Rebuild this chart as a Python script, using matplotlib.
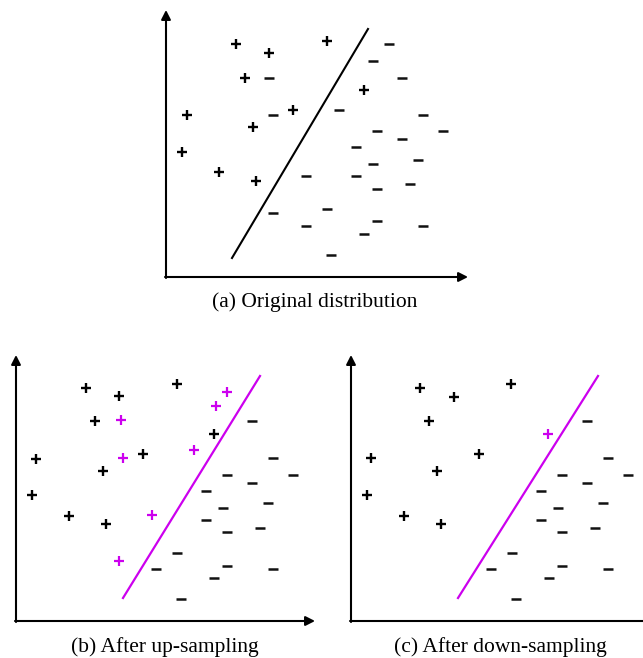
import matplotlib
matplotlib.use("Agg")
import matplotlib.pyplot as plt

W, H = 643, 658
MAGENTA = "#cc00ee"

# panel (a): original distribution (units = pixels from the axis origin)
a_plus_x = [70, 103, 161, 79, 198, 21, 127, 87, 16, 53, 90]
a_plus_y = [233, 224, 236, 199, 187, 162, 167, 150, 125, 105, 96]
a_minus_x = [223, 207, 103, 236, 173, 107, 257, 211, 277, 236, 190, 207, 252,
             140, 190, 211, 244, 107, 161, 211, 140, 198, 257, 165]
a_minus_y = [233, 216, 199, 199, 167, 162, 162, 146, 146, 138, 130, 113, 117,
             101, 101, 88, 93, 64, 68, 56, 51, 43, 51, 22]
a_line_x = [66, 202]
a_line_y = [19, 248]

# panel (b): after up-sampling
b_plus_x = [70, 103, 161, 79, 198, 20, 127, 87, 16, 53, 90]
b_plus_y = [233, 225, 237, 200, 187, 162, 167, 150, 126, 105, 97]
b_new_x = [211, 200, 105, 107, 178, 136, 103]
b_new_y = [229, 215, 201, 163, 171, 106, 60]
b_minus_x = [236, 257, 211, 277, 236, 190, 207, 252, 190, 211, 244, 161, 140,
             211, 198, 257, 165]
b_minus_y = [200, 163, 146, 146, 138, 130, 113, 118, 101, 89, 93, 68, 52,
             55, 43, 52, 22]
b_line_x = [107, 244]
b_line_y = [23, 245]

# panel (c): after down-sampling
c_plus_x = [69, 103, 160, 78, 20, 128, 86, 16, 53, 90]
c_plus_y = [233, 224, 237, 200, 163, 167, 150, 126, 105, 97]
c_new_x = [197]
c_new_y = [187]
c_minus_x = b_minus_x
c_minus_y = b_minus_y
c_line_x = [107, 247]
c_line_y = [23, 245]

captions = ["(a) Original distribution", "(b) After up-sampling",
            "(c) After down-sampling"]

fig = plt.figure(figsize=(W / 100, H / 100), dpi=100)
fig.patch.set_facecolor("white")


def make_panel(ox, oy):
    # axes whose data units are pixels, origin at image point (ox, oy)
    x0, x1, y0, y1 = -12, 312, -12, 275
    ax = fig.add_axes([(ox + x0) / W, (H - oy + y0) / H,
                       (x1 - x0) / W, (y1 - y0) / H])
    ax.set_xlim(x0, x1)
    ax.set_ylim(y0, y1)
    ax.axis("off")
    return ax


def draw_axes(ax, xlen, ylen):
    kw = dict(arrowstyle="-|>,head_length=0.55,head_width=0.28", lw=1.5,
              color="black", shrinkA=0, shrinkB=0)
    ax.annotate("", xy=(0, ylen), xytext=(0, -1), arrowprops=kw,
                annotation_clip=False)
    ax.annotate("", xy=(xlen, 0), xytext=(-1, 0), arrowprops=kw,
                annotation_clip=False)


def draw_points(ax, px, py, mx, my, nx=None, ny=None):
    ax.plot(px, py, "+", color="black", ms=7.5, mew=1.7, ls="none")
    ax.plot(mx, my, "_", color="#111111", ms=7.5, mew=1.8, ls="none")
    if nx:
        ax.plot(nx, ny, "+", color=MAGENTA, ms=7.5, mew=1.6, ls="none")


ax_a = make_panel(166, 277)
draw_axes(ax_a, 302, 267)
draw_points(ax_a, a_plus_x, a_plus_y, a_minus_x, a_minus_y)
ax_a.plot(a_line_x, a_line_y, color="black", lw=1.5)

ax_b = make_panel(16, 621)
draw_axes(ax_b, 299, 266)
draw_points(ax_b, b_plus_x, b_plus_y, b_minus_x, b_minus_y, b_new_x, b_new_y)
ax_b.plot(b_line_x, b_line_y, color=MAGENTA, lw=1.6)

ax_c = make_panel(351, 621)
draw_axes(ax_c, 305, 266)
draw_points(ax_c, c_plus_x, c_plus_y, c_minus_x, c_minus_y, c_new_x, c_new_y)
ax_c.plot(c_line_x, c_line_y, color=MAGENTA, lw=1.6)

cap_kw = dict(ha="center", va="center", fontsize=15.5,
              family="Liberation Serif")
fig.text(315 / W, 1 - 302 / H, captions[0], **cap_kw)
fig.text(165 / W, 1 - 647 / H, captions[1], **cap_kw)
fig.text(500 / W, 1 - 647 / H, captions[2], **cap_kw)

fig.savefig("out.png", dpi=100, facecolor="white")
